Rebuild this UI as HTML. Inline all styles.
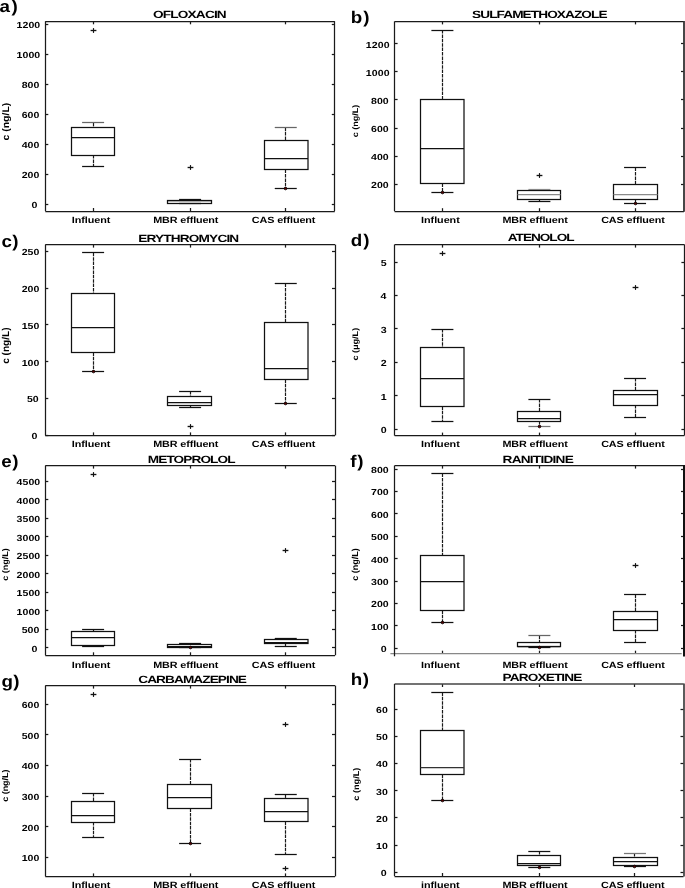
<!DOCTYPE html>
<html><head><meta charset="utf-8"><style>
html,body{margin:0;padding:0;background:#fff;}
svg{display:block;will-change:transform;}
text{font-family:"Liberation Sans", sans-serif;text-rendering:geometricPrecision;font-variant-ligatures:none;font-feature-settings:'liga' 0,'clig' 0;}
</style></head><body>
<svg width="685" height="888" viewBox="0 0 685 888">
<rect width="685" height="888" fill="#fff"/>
<line x1="45.30" y1="204.50" x2="48.30" y2="204.50" stroke="#1a1a1a" stroke-width="1.25"/>
<line x1="331.80" y1="204.50" x2="334.80" y2="204.50" stroke="#1a1a1a" stroke-width="1.25"/>
<text transform="translate(31.51,208.40) scale(1.2100,1)" font-size="8.80" letter-spacing="0.000" fill="#000" font-weight="bold">0</text>
<line x1="45.30" y1="174.50" x2="48.30" y2="174.50" stroke="#1a1a1a" stroke-width="1.25"/>
<line x1="331.80" y1="174.50" x2="334.80" y2="174.50" stroke="#1a1a1a" stroke-width="1.25"/>
<text transform="translate(21.67,178.40) scale(1.2000,1)" font-size="8.80" letter-spacing="0.058" fill="#000" font-weight="bold">200</text>
<line x1="45.30" y1="144.50" x2="48.30" y2="144.50" stroke="#1a1a1a" stroke-width="1.25"/>
<line x1="331.80" y1="144.50" x2="334.80" y2="144.50" stroke="#1a1a1a" stroke-width="1.25"/>
<text transform="translate(21.67,148.40) scale(1.2000,1)" font-size="8.80" letter-spacing="0.059" fill="#000" font-weight="bold">400</text>
<line x1="45.30" y1="114.50" x2="48.30" y2="114.50" stroke="#1a1a1a" stroke-width="1.25"/>
<line x1="331.80" y1="114.50" x2="334.80" y2="114.50" stroke="#1a1a1a" stroke-width="1.25"/>
<text transform="translate(21.67,118.40) scale(1.2000,1)" font-size="8.80" letter-spacing="0.058" fill="#000" font-weight="bold">600</text>
<line x1="45.30" y1="84.50" x2="48.30" y2="84.50" stroke="#1a1a1a" stroke-width="1.25"/>
<line x1="331.80" y1="84.50" x2="334.80" y2="84.50" stroke="#1a1a1a" stroke-width="1.25"/>
<text transform="translate(21.67,88.40) scale(1.2000,1)" font-size="8.80" letter-spacing="0.059" fill="#000" font-weight="bold">800</text>
<line x1="45.30" y1="54.50" x2="48.30" y2="54.50" stroke="#1a1a1a" stroke-width="1.25"/>
<line x1="331.80" y1="54.50" x2="334.80" y2="54.50" stroke="#1a1a1a" stroke-width="1.25"/>
<text transform="translate(16.55,58.40) scale(1.2000,1)" font-size="8.80" letter-spacing="0.052" fill="#000" font-weight="bold">1000</text>
<line x1="45.30" y1="24.50" x2="48.30" y2="24.50" stroke="#1a1a1a" stroke-width="1.25"/>
<line x1="331.80" y1="24.50" x2="334.80" y2="24.50" stroke="#1a1a1a" stroke-width="1.25"/>
<text transform="translate(16.55,28.40) scale(1.2000,1)" font-size="8.80" letter-spacing="0.052" fill="#000" font-weight="bold">1200</text>
<line x1="93.50" y1="211.00" x2="93.50" y2="208.00" stroke="#1a1a1a" stroke-width="1.25"/>
<line x1="93.50" y1="21.30" x2="93.50" y2="24.30" stroke="#1a1a1a" stroke-width="1.25"/>
<line x1="190.50" y1="211.00" x2="190.50" y2="208.00" stroke="#1a1a1a" stroke-width="1.25"/>
<line x1="190.50" y1="21.30" x2="190.50" y2="24.30" stroke="#1a1a1a" stroke-width="1.25"/>
<line x1="285.50" y1="211.00" x2="285.50" y2="208.00" stroke="#1a1a1a" stroke-width="1.25"/>
<line x1="285.50" y1="21.30" x2="285.50" y2="24.30" stroke="#1a1a1a" stroke-width="1.25"/>
<line x1="93.50" y1="122.90" x2="93.50" y2="127.00" stroke="#1a1a1a" stroke-width="1.2" stroke-dasharray="3.5,0.9"/>
<line x1="93.50" y1="155.00" x2="93.50" y2="166.00" stroke="#1a1a1a" stroke-width="1.2" stroke-dasharray="3.5,0.9"/>
<line x1="82.10" y1="122.50" x2="104.10" y2="122.50" stroke="#666" stroke-width="1.25"/>
<line x1="82.10" y1="166.50" x2="104.10" y2="166.50" stroke="#111" stroke-width="1.25"/>
<rect x="71.50" y="127.50" width="43.00" height="28.00" fill="none" stroke="#111" stroke-width="1.25"/>
<line x1="71.50" y1="137.50" x2="114.50" y2="137.50" stroke="#111" stroke-width="1.25"/>
<line x1="90.60" y1="30.50" x2="96.40" y2="30.50" stroke="#111" stroke-width="1.35"/>
<line x1="93.50" y1="28.10" x2="93.50" y2="32.90" stroke="#111" stroke-width="1.15"/>
<line x1="190.50" y1="199.30" x2="190.50" y2="200.20" stroke="#1a1a1a" stroke-width="1.2" stroke-dasharray="3.5,0.9"/>
<line x1="179.10" y1="199.50" x2="201.10" y2="199.50" stroke="#111" stroke-width="1.25"/>
<line x1="179.10" y1="203.50" x2="201.10" y2="203.50" stroke="#111" stroke-width="1.25"/>
<rect x="167.50" y="200.50" width="44.00" height="3.00" fill="none" stroke="#111" stroke-width="1.25"/>
<line x1="167.50" y1="200.50" x2="211.50" y2="200.50" stroke="#111" stroke-width="1.25"/>
<line x1="187.60" y1="167.50" x2="193.40" y2="167.50" stroke="#111" stroke-width="1.35"/>
<line x1="190.50" y1="165.10" x2="190.50" y2="169.90" stroke="#111" stroke-width="1.15"/>
<line x1="285.50" y1="127.70" x2="285.50" y2="140.40" stroke="#1a1a1a" stroke-width="1.2" stroke-dasharray="3.5,0.9"/>
<line x1="285.50" y1="169.60" x2="285.50" y2="188.00" stroke="#1a1a1a" stroke-width="1.2" stroke-dasharray="3.5,0.9"/>
<line x1="274.75" y1="127.50" x2="296.75" y2="127.50" stroke="#666" stroke-width="1.25"/>
<line x1="274.75" y1="188.50" x2="296.75" y2="188.50" stroke="#111" stroke-width="1.25"/>
<rect x="264.50" y="140.50" width="43.50" height="29.00" fill="none" stroke="#111" stroke-width="1.25"/>
<line x1="264.50" y1="158.50" x2="308.00" y2="158.50" stroke="#111" stroke-width="1.25"/>
<circle cx="285.50" cy="188.50" r="1.35" fill="#5a0000" stroke="#000" stroke-width="0.8"/>
<line x1="45.30" y1="211.50" x2="334.80" y2="211.50" stroke="#1a1a1a" stroke-width="1.25"/>
<line x1="45.30" y1="21.50" x2="334.80" y2="21.50" stroke="#1a1a1a" stroke-width="1.25"/>
<line x1="45.50" y1="21.30" x2="45.50" y2="211.00" stroke="#1a1a1a" stroke-width="1.25"/>
<line x1="334.50" y1="21.30" x2="334.50" y2="211.00" stroke="#1a1a1a" stroke-width="1.25"/>
<text transform="translate(71.78,222.80) scale(1.2000,1)" font-size="9.00" letter-spacing="-0.040" fill="#000" font-weight="bold">Influent</text>
<text transform="translate(153.18,222.80) scale(1.2000,1)" font-size="9.00" letter-spacing="-0.101" fill="#000" font-weight="bold">MBR effluent</text>
<text transform="translate(251.86,222.80) scale(1.2000,1)" font-size="9.00" letter-spacing="-0.093" fill="#000" font-weight="bold">CAS effluent</text>
<text transform="translate(153.04,18.30) scale(1.3000,1)" font-size="10.50" letter-spacing="-0.644" fill="#000" font-weight="bold">OFLOXACIN</text>
<text transform="translate(-0.55,12.00) scale(1.1200,1)" font-size="16.80" letter-spacing="1.480" fill="#000" font-weight="bold">a)</text>
<text transform="rotate(-90)" x="-140.41" y="9.46" font-size="9.61" textLength="37.63" lengthAdjust="spacingAndGlyphs" fill="#000" font-weight="bold">c (ng/L)</text>
<line x1="394.60" y1="184.50" x2="397.60" y2="184.50" stroke="#1a1a1a" stroke-width="1.25"/>
<line x1="681.00" y1="184.50" x2="684.00" y2="184.50" stroke="#1a1a1a" stroke-width="1.25"/>
<text transform="translate(370.97,188.40) scale(1.2000,1)" font-size="8.80" letter-spacing="0.058" fill="#000" font-weight="bold">200</text>
<line x1="394.60" y1="156.50" x2="397.60" y2="156.50" stroke="#1a1a1a" stroke-width="1.25"/>
<line x1="681.00" y1="156.50" x2="684.00" y2="156.50" stroke="#1a1a1a" stroke-width="1.25"/>
<text transform="translate(370.97,160.24) scale(1.2000,1)" font-size="8.80" letter-spacing="0.059" fill="#000" font-weight="bold">400</text>
<line x1="394.60" y1="128.50" x2="397.60" y2="128.50" stroke="#1a1a1a" stroke-width="1.25"/>
<line x1="681.00" y1="128.50" x2="684.00" y2="128.50" stroke="#1a1a1a" stroke-width="1.25"/>
<text transform="translate(370.97,132.08) scale(1.2000,1)" font-size="8.80" letter-spacing="0.058" fill="#000" font-weight="bold">600</text>
<line x1="394.60" y1="99.50" x2="397.60" y2="99.50" stroke="#1a1a1a" stroke-width="1.25"/>
<line x1="681.00" y1="99.50" x2="684.00" y2="99.50" stroke="#1a1a1a" stroke-width="1.25"/>
<text transform="translate(370.97,103.92) scale(1.2000,1)" font-size="8.80" letter-spacing="0.059" fill="#000" font-weight="bold">800</text>
<line x1="394.60" y1="71.50" x2="397.60" y2="71.50" stroke="#1a1a1a" stroke-width="1.25"/>
<line x1="681.00" y1="71.50" x2="684.00" y2="71.50" stroke="#1a1a1a" stroke-width="1.25"/>
<text transform="translate(365.85,75.76) scale(1.2000,1)" font-size="8.80" letter-spacing="0.052" fill="#000" font-weight="bold">1000</text>
<line x1="394.60" y1="43.50" x2="397.60" y2="43.50" stroke="#1a1a1a" stroke-width="1.25"/>
<line x1="681.00" y1="43.50" x2="684.00" y2="43.50" stroke="#1a1a1a" stroke-width="1.25"/>
<text transform="translate(365.85,47.60) scale(1.2000,1)" font-size="8.80" letter-spacing="0.052" fill="#000" font-weight="bold">1200</text>
<line x1="442.50" y1="211.20" x2="442.50" y2="208.20" stroke="#1a1a1a" stroke-width="1.25"/>
<line x1="442.50" y1="21.40" x2="442.50" y2="24.40" stroke="#1a1a1a" stroke-width="1.25"/>
<line x1="539.50" y1="211.20" x2="539.50" y2="208.20" stroke="#1a1a1a" stroke-width="1.25"/>
<line x1="539.50" y1="21.40" x2="539.50" y2="24.40" stroke="#1a1a1a" stroke-width="1.25"/>
<line x1="635.50" y1="211.20" x2="635.50" y2="208.20" stroke="#1a1a1a" stroke-width="1.25"/>
<line x1="635.50" y1="21.40" x2="635.50" y2="24.40" stroke="#1a1a1a" stroke-width="1.25"/>
<line x1="442.50" y1="30.00" x2="442.50" y2="99.00" stroke="#1a1a1a" stroke-width="1.2" stroke-dasharray="3.5,0.9"/>
<line x1="442.50" y1="183.60" x2="442.50" y2="192.30" stroke="#1a1a1a" stroke-width="1.2" stroke-dasharray="3.5,0.9"/>
<line x1="431.40" y1="30.50" x2="453.40" y2="30.50" stroke="#111" stroke-width="1.25"/>
<line x1="431.40" y1="192.50" x2="453.40" y2="192.50" stroke="#111" stroke-width="1.25"/>
<rect x="420.50" y="99.50" width="43.50" height="84.00" fill="none" stroke="#111" stroke-width="1.25"/>
<line x1="420.50" y1="148.50" x2="464.00" y2="148.50" stroke="#111" stroke-width="1.25"/>
<circle cx="442.50" cy="192.50" r="1.35" fill="#5a0000" stroke="#000" stroke-width="0.8"/>
<line x1="539.50" y1="199.30" x2="539.50" y2="201.30" stroke="#1a1a1a" stroke-width="1.2" stroke-dasharray="3.5,0.9"/>
<line x1="528.40" y1="189.50" x2="550.40" y2="189.50" stroke="#999" stroke-width="1.25"/>
<line x1="528.40" y1="201.50" x2="550.40" y2="201.50" stroke="#111" stroke-width="1.25"/>
<rect x="517.50" y="190.50" width="43.00" height="9.00" fill="none" stroke="#111" stroke-width="1.25"/>
<line x1="517.50" y1="194.50" x2="560.50" y2="194.50" stroke="#8a8a8a" stroke-width="1.25"/>
<line x1="536.60" y1="175.50" x2="542.40" y2="175.50" stroke="#111" stroke-width="1.35"/>
<line x1="539.50" y1="173.10" x2="539.50" y2="177.90" stroke="#111" stroke-width="1.15"/>
<line x1="635.50" y1="167.60" x2="635.50" y2="184.40" stroke="#1a1a1a" stroke-width="1.2" stroke-dasharray="3.5,0.9"/>
<line x1="635.50" y1="199.30" x2="635.50" y2="203.30" stroke="#1a1a1a" stroke-width="1.2" stroke-dasharray="3.5,0.9"/>
<line x1="624.05" y1="167.50" x2="646.05" y2="167.50" stroke="#111" stroke-width="1.25"/>
<line x1="624.05" y1="203.50" x2="646.05" y2="203.50" stroke="#111" stroke-width="1.25"/>
<rect x="613.50" y="184.50" width="44.00" height="15.00" fill="none" stroke="#111" stroke-width="1.25"/>
<line x1="613.50" y1="194.50" x2="657.50" y2="194.50" stroke="#8a8a8a" stroke-width="1.25"/>
<circle cx="635.50" cy="203.50" r="1.35" fill="#5a0000" stroke="#000" stroke-width="0.8"/>
<line x1="394.60" y1="211.50" x2="684.00" y2="211.50" stroke="#1a1a1a" stroke-width="1.25"/>
<line x1="394.60" y1="21.50" x2="684.00" y2="21.50" stroke="#1a1a1a" stroke-width="1.25"/>
<line x1="394.50" y1="21.40" x2="394.50" y2="211.20" stroke="#1a1a1a" stroke-width="1.25"/>
<line x1="684.00" y1="20.90" x2="684.00" y2="211.70" stroke="#333" stroke-width="1.8"/>
<text transform="translate(421.08,222.80) scale(1.2000,1)" font-size="9.00" letter-spacing="-0.040" fill="#000" font-weight="bold">Influent</text>
<text transform="translate(502.48,222.80) scale(1.2000,1)" font-size="9.00" letter-spacing="-0.101" fill="#000" font-weight="bold">MBR effluent</text>
<text transform="translate(601.16,222.80) scale(1.2000,1)" font-size="9.00" letter-spacing="-0.093" fill="#000" font-weight="bold">CAS effluent</text>
<text transform="translate(472.01,17.90) scale(1.3000,1)" font-size="10.50" letter-spacing="-0.709" fill="#000" font-weight="bold">SULFAMETHOXAZOLE</text>
<text transform="translate(350.76,22.60) scale(1.1200,1)" font-size="16.80" letter-spacing="0.998" fill="#000" font-weight="bold">b)</text>
<text transform="rotate(-90)" x="-137.25" y="358.20" font-size="8.01" textLength="32.50" lengthAdjust="spacingAndGlyphs" fill="#000" font-weight="bold">c (ng/L)</text>
<line x1="45.30" y1="435.50" x2="48.30" y2="435.50" stroke="#1a1a1a" stroke-width="1.25"/>
<line x1="332.00" y1="435.50" x2="335.00" y2="435.50" stroke="#1a1a1a" stroke-width="1.25"/>
<text transform="translate(31.51,439.20) scale(1.2100,1)" font-size="8.80" letter-spacing="0.000" fill="#000" font-weight="bold">0</text>
<line x1="45.30" y1="398.50" x2="48.30" y2="398.50" stroke="#1a1a1a" stroke-width="1.25"/>
<line x1="332.00" y1="398.50" x2="335.00" y2="398.50" stroke="#1a1a1a" stroke-width="1.25"/>
<text transform="translate(26.90,402.44) scale(1.2000,1)" font-size="8.80" letter-spacing="0.076" fill="#000" font-weight="bold">50</text>
<line x1="45.30" y1="361.50" x2="48.30" y2="361.50" stroke="#1a1a1a" stroke-width="1.25"/>
<line x1="332.00" y1="361.50" x2="335.00" y2="361.50" stroke="#1a1a1a" stroke-width="1.25"/>
<text transform="translate(21.68,365.68) scale(1.2000,1)" font-size="8.80" letter-spacing="0.057" fill="#000" font-weight="bold">100</text>
<line x1="45.30" y1="324.50" x2="48.30" y2="324.50" stroke="#1a1a1a" stroke-width="1.25"/>
<line x1="332.00" y1="324.50" x2="335.00" y2="324.50" stroke="#1a1a1a" stroke-width="1.25"/>
<text transform="translate(21.68,328.92) scale(1.2000,1)" font-size="8.80" letter-spacing="0.057" fill="#000" font-weight="bold">150</text>
<line x1="45.30" y1="288.50" x2="48.30" y2="288.50" stroke="#1a1a1a" stroke-width="1.25"/>
<line x1="332.00" y1="288.50" x2="335.00" y2="288.50" stroke="#1a1a1a" stroke-width="1.25"/>
<text transform="translate(21.67,292.16) scale(1.2000,1)" font-size="8.80" letter-spacing="0.058" fill="#000" font-weight="bold">200</text>
<line x1="45.30" y1="251.50" x2="48.30" y2="251.50" stroke="#1a1a1a" stroke-width="1.25"/>
<line x1="332.00" y1="251.50" x2="335.00" y2="251.50" stroke="#1a1a1a" stroke-width="1.25"/>
<text transform="translate(21.67,255.40) scale(1.2000,1)" font-size="8.80" letter-spacing="0.058" fill="#000" font-weight="bold">250</text>
<line x1="93.50" y1="435.40" x2="93.50" y2="432.40" stroke="#1a1a1a" stroke-width="1.25"/>
<line x1="93.50" y1="244.60" x2="93.50" y2="247.60" stroke="#1a1a1a" stroke-width="1.25"/>
<line x1="190.50" y1="435.40" x2="190.50" y2="432.40" stroke="#1a1a1a" stroke-width="1.25"/>
<line x1="190.50" y1="244.60" x2="190.50" y2="247.60" stroke="#1a1a1a" stroke-width="1.25"/>
<line x1="285.50" y1="435.40" x2="285.50" y2="432.40" stroke="#1a1a1a" stroke-width="1.25"/>
<line x1="285.50" y1="244.60" x2="285.50" y2="247.60" stroke="#1a1a1a" stroke-width="1.25"/>
<line x1="93.50" y1="252.80" x2="93.50" y2="293.00" stroke="#1a1a1a" stroke-width="1.2" stroke-dasharray="3.5,0.9"/>
<line x1="93.50" y1="352.40" x2="93.50" y2="371.40" stroke="#1a1a1a" stroke-width="1.2" stroke-dasharray="3.5,0.9"/>
<line x1="82.10" y1="252.50" x2="104.10" y2="252.50" stroke="#111" stroke-width="1.25"/>
<line x1="82.10" y1="371.50" x2="104.10" y2="371.50" stroke="#111" stroke-width="1.25"/>
<rect x="71.50" y="293.50" width="43.00" height="59.00" fill="none" stroke="#111" stroke-width="1.25"/>
<line x1="71.50" y1="327.50" x2="114.50" y2="327.50" stroke="#111" stroke-width="1.25"/>
<circle cx="93.50" cy="371.50" r="1.35" fill="#5a0000" stroke="#000" stroke-width="0.8"/>
<line x1="190.50" y1="391.00" x2="190.50" y2="396.60" stroke="#1a1a1a" stroke-width="1.2" stroke-dasharray="3.5,0.9"/>
<line x1="190.50" y1="405.00" x2="190.50" y2="407.20" stroke="#1a1a1a" stroke-width="1.2" stroke-dasharray="3.5,0.9"/>
<line x1="179.10" y1="391.50" x2="201.10" y2="391.50" stroke="#111" stroke-width="1.25"/>
<line x1="179.10" y1="407.50" x2="201.10" y2="407.50" stroke="#111" stroke-width="1.25"/>
<rect x="167.50" y="396.50" width="44.00" height="9.00" fill="none" stroke="#111" stroke-width="1.25"/>
<line x1="167.50" y1="402.50" x2="211.50" y2="402.50" stroke="#111" stroke-width="1.25"/>
<line x1="187.60" y1="426.50" x2="193.40" y2="426.50" stroke="#111" stroke-width="1.35"/>
<line x1="190.50" y1="424.10" x2="190.50" y2="428.90" stroke="#111" stroke-width="1.15"/>
<line x1="285.50" y1="283.60" x2="285.50" y2="322.60" stroke="#1a1a1a" stroke-width="1.2" stroke-dasharray="3.5,0.9"/>
<line x1="285.50" y1="379.40" x2="285.50" y2="403.00" stroke="#1a1a1a" stroke-width="1.2" stroke-dasharray="3.5,0.9"/>
<line x1="274.75" y1="283.50" x2="296.75" y2="283.50" stroke="#111" stroke-width="1.25"/>
<line x1="274.75" y1="403.50" x2="296.75" y2="403.50" stroke="#111" stroke-width="1.25"/>
<rect x="264.50" y="322.50" width="43.50" height="57.00" fill="none" stroke="#111" stroke-width="1.25"/>
<line x1="264.50" y1="368.50" x2="308.00" y2="368.50" stroke="#111" stroke-width="1.25"/>
<circle cx="285.50" cy="403.50" r="1.35" fill="#5a0000" stroke="#000" stroke-width="0.8"/>
<line x1="45.30" y1="435.50" x2="335.00" y2="435.50" stroke="#1a1a1a" stroke-width="1.25"/>
<line x1="45.30" y1="244.50" x2="335.00" y2="244.50" stroke="#1a1a1a" stroke-width="1.25"/>
<line x1="45.50" y1="244.60" x2="45.50" y2="435.40" stroke="#1a1a1a" stroke-width="1.25"/>
<line x1="335.50" y1="244.60" x2="335.50" y2="435.40" stroke="#1a1a1a" stroke-width="1.25"/>
<text transform="translate(71.78,446.60) scale(1.2000,1)" font-size="9.00" letter-spacing="-0.040" fill="#000" font-weight="bold">Influent</text>
<text transform="translate(153.18,446.60) scale(1.2000,1)" font-size="9.00" letter-spacing="-0.101" fill="#000" font-weight="bold">MBR effluent</text>
<text transform="translate(251.86,446.60) scale(1.2000,1)" font-size="9.00" letter-spacing="-0.093" fill="#000" font-weight="bold">CAS effluent</text>
<text transform="translate(138.19,242.00) scale(1.3000,1)" font-size="10.50" letter-spacing="-0.642" fill="#000" font-weight="bold">ERYTHROMYCIN</text>
<text transform="translate(1.56,246.60) scale(1.1200,1)" font-size="16.80" letter-spacing="0.127" fill="#000" font-weight="bold">c)</text>
<text transform="rotate(-90)" x="-363.89" y="9.30" font-size="9.93" textLength="36.50" lengthAdjust="spacingAndGlyphs" fill="#000" font-weight="bold">c (ng/L)</text>
<line x1="394.60" y1="429.50" x2="397.60" y2="429.50" stroke="#1a1a1a" stroke-width="1.25"/>
<line x1="681.40" y1="429.50" x2="684.40" y2="429.50" stroke="#1a1a1a" stroke-width="1.25"/>
<text transform="translate(380.81,433.40) scale(1.2100,1)" font-size="8.80" letter-spacing="0.000" fill="#000" font-weight="bold">0</text>
<line x1="394.60" y1="395.50" x2="397.60" y2="395.50" stroke="#1a1a1a" stroke-width="1.25"/>
<line x1="681.40" y1="395.50" x2="684.40" y2="395.50" stroke="#1a1a1a" stroke-width="1.25"/>
<text transform="translate(380.67,399.92) scale(1.2100,1)" font-size="8.80" letter-spacing="0.000" fill="#000" font-weight="bold">1</text>
<line x1="394.60" y1="362.50" x2="397.60" y2="362.50" stroke="#1a1a1a" stroke-width="1.25"/>
<line x1="681.40" y1="362.50" x2="684.40" y2="362.50" stroke="#1a1a1a" stroke-width="1.25"/>
<text transform="translate(380.80,366.44) scale(1.2100,1)" font-size="8.80" letter-spacing="0.000" fill="#000" font-weight="bold">2</text>
<line x1="394.60" y1="328.50" x2="397.60" y2="328.50" stroke="#1a1a1a" stroke-width="1.25"/>
<line x1="681.40" y1="328.50" x2="684.40" y2="328.50" stroke="#1a1a1a" stroke-width="1.25"/>
<text transform="translate(380.76,332.96) scale(1.2100,1)" font-size="8.80" letter-spacing="0.000" fill="#000" font-weight="bold">3</text>
<line x1="394.60" y1="295.50" x2="397.60" y2="295.50" stroke="#1a1a1a" stroke-width="1.25"/>
<line x1="681.40" y1="295.50" x2="684.40" y2="295.50" stroke="#1a1a1a" stroke-width="1.25"/>
<text transform="translate(380.44,299.48) scale(1.2100,1)" font-size="8.80" letter-spacing="0.000" fill="#000" font-weight="bold">4</text>
<line x1="394.60" y1="262.50" x2="397.60" y2="262.50" stroke="#1a1a1a" stroke-width="1.25"/>
<line x1="681.40" y1="262.50" x2="684.40" y2="262.50" stroke="#1a1a1a" stroke-width="1.25"/>
<text transform="translate(380.67,266.00) scale(1.2100,1)" font-size="8.80" letter-spacing="0.000" fill="#000" font-weight="bold">5</text>
<line x1="442.50" y1="435.60" x2="442.50" y2="432.60" stroke="#1a1a1a" stroke-width="1.25"/>
<line x1="442.50" y1="244.60" x2="442.50" y2="247.60" stroke="#1a1a1a" stroke-width="1.25"/>
<line x1="539.50" y1="435.60" x2="539.50" y2="432.60" stroke="#1a1a1a" stroke-width="1.25"/>
<line x1="539.50" y1="244.60" x2="539.50" y2="247.60" stroke="#1a1a1a" stroke-width="1.25"/>
<line x1="635.50" y1="435.60" x2="635.50" y2="432.60" stroke="#1a1a1a" stroke-width="1.25"/>
<line x1="635.50" y1="244.60" x2="635.50" y2="247.60" stroke="#1a1a1a" stroke-width="1.25"/>
<line x1="442.50" y1="329.00" x2="442.50" y2="347.60" stroke="#1a1a1a" stroke-width="1.2" stroke-dasharray="3.5,0.9"/>
<line x1="442.50" y1="406.40" x2="442.50" y2="421.40" stroke="#1a1a1a" stroke-width="1.2" stroke-dasharray="3.5,0.9"/>
<line x1="431.40" y1="329.50" x2="453.40" y2="329.50" stroke="#111" stroke-width="1.25"/>
<line x1="431.40" y1="421.50" x2="453.40" y2="421.50" stroke="#111" stroke-width="1.25"/>
<rect x="420.50" y="347.50" width="43.50" height="59.00" fill="none" stroke="#111" stroke-width="1.25"/>
<line x1="420.50" y1="378.50" x2="464.00" y2="378.50" stroke="#111" stroke-width="1.25"/>
<line x1="439.60" y1="253.50" x2="445.40" y2="253.50" stroke="#111" stroke-width="1.35"/>
<line x1="442.50" y1="251.10" x2="442.50" y2="255.90" stroke="#111" stroke-width="1.15"/>
<line x1="539.50" y1="399.00" x2="539.50" y2="411.50" stroke="#1a1a1a" stroke-width="1.2" stroke-dasharray="3.5,0.9"/>
<line x1="539.50" y1="421.10" x2="539.50" y2="426.50" stroke="#1a1a1a" stroke-width="1.2" stroke-dasharray="3.5,0.9"/>
<line x1="528.40" y1="399.50" x2="550.40" y2="399.50" stroke="#111" stroke-width="1.25"/>
<line x1="528.40" y1="426.50" x2="550.40" y2="426.50" stroke="#777" stroke-width="1.25"/>
<rect x="517.50" y="411.50" width="43.00" height="10.00" fill="none" stroke="#111" stroke-width="1.25"/>
<line x1="517.50" y1="418.50" x2="560.50" y2="418.50" stroke="#111" stroke-width="1.25"/>
<circle cx="539.50" cy="426.50" r="1.35" fill="#5a0000" stroke="#000" stroke-width="0.8"/>
<line x1="635.50" y1="378.00" x2="635.50" y2="390.00" stroke="#1a1a1a" stroke-width="1.2" stroke-dasharray="3.5,0.9"/>
<line x1="635.50" y1="405.00" x2="635.50" y2="417.20" stroke="#1a1a1a" stroke-width="1.2" stroke-dasharray="3.5,0.9"/>
<line x1="624.05" y1="378.50" x2="646.05" y2="378.50" stroke="#111" stroke-width="1.25"/>
<line x1="624.05" y1="417.50" x2="646.05" y2="417.50" stroke="#111" stroke-width="1.25"/>
<rect x="613.50" y="390.50" width="44.00" height="15.00" fill="none" stroke="#111" stroke-width="1.25"/>
<line x1="613.50" y1="394.50" x2="657.50" y2="394.50" stroke="#111" stroke-width="1.25"/>
<line x1="632.60" y1="287.50" x2="638.40" y2="287.50" stroke="#111" stroke-width="1.35"/>
<line x1="635.50" y1="285.10" x2="635.50" y2="289.90" stroke="#111" stroke-width="1.15"/>
<line x1="394.60" y1="435.50" x2="684.40" y2="435.50" stroke="#1a1a1a" stroke-width="1.25"/>
<line x1="394.60" y1="244.50" x2="684.40" y2="244.50" stroke="#1a1a1a" stroke-width="1.25"/>
<line x1="394.50" y1="244.60" x2="394.50" y2="435.60" stroke="#1a1a1a" stroke-width="1.25"/>
<line x1="684.50" y1="244.60" x2="684.50" y2="435.60" stroke="#1a1a1a" stroke-width="1.25"/>
<text transform="translate(421.08,446.60) scale(1.2000,1)" font-size="9.00" letter-spacing="-0.040" fill="#000" font-weight="bold">Influent</text>
<text transform="translate(502.48,446.60) scale(1.2000,1)" font-size="9.00" letter-spacing="-0.101" fill="#000" font-weight="bold">MBR effluent</text>
<text transform="translate(601.16,446.60) scale(1.2000,1)" font-size="9.00" letter-spacing="-0.093" fill="#000" font-weight="bold">CAS effluent</text>
<text transform="translate(507.76,240.90) scale(1.3000,1)" font-size="10.50" letter-spacing="-0.792" fill="#000" font-weight="bold">ATENOLOL</text>
<text transform="translate(350.63,246.40) scale(1.1200,1)" font-size="16.80" letter-spacing="1.116" fill="#000" font-weight="bold">d)</text>
<text transform="rotate(-90)" x="-360.56" y="358.40" font-size="8.01" textLength="32.82" lengthAdjust="spacingAndGlyphs" fill="#000" font-weight="bold">c (µg/L)</text>
<line x1="45.30" y1="647.50" x2="48.30" y2="647.50" stroke="#1a1a1a" stroke-width="1.25"/>
<line x1="332.00" y1="647.50" x2="335.00" y2="647.50" stroke="#1a1a1a" stroke-width="1.25"/>
<text transform="translate(31.51,651.60) scale(1.2100,1)" font-size="8.80" letter-spacing="0.000" fill="#000" font-weight="bold">0</text>
<line x1="45.30" y1="629.50" x2="48.30" y2="629.50" stroke="#1a1a1a" stroke-width="1.25"/>
<line x1="332.00" y1="629.50" x2="335.00" y2="629.50" stroke="#1a1a1a" stroke-width="1.25"/>
<text transform="translate(21.67,633.14) scale(1.2000,1)" font-size="8.80" letter-spacing="0.059" fill="#000" font-weight="bold">500</text>
<line x1="45.30" y1="610.50" x2="48.30" y2="610.50" stroke="#1a1a1a" stroke-width="1.25"/>
<line x1="332.00" y1="610.50" x2="335.00" y2="610.50" stroke="#1a1a1a" stroke-width="1.25"/>
<text transform="translate(16.55,614.68) scale(1.2000,1)" font-size="8.80" letter-spacing="0.052" fill="#000" font-weight="bold">1000</text>
<line x1="45.30" y1="592.50" x2="48.30" y2="592.50" stroke="#1a1a1a" stroke-width="1.25"/>
<line x1="332.00" y1="592.50" x2="335.00" y2="592.50" stroke="#1a1a1a" stroke-width="1.25"/>
<text transform="translate(16.55,596.22) scale(1.2000,1)" font-size="8.80" letter-spacing="0.052" fill="#000" font-weight="bold">1500</text>
<line x1="45.30" y1="573.50" x2="48.30" y2="573.50" stroke="#1a1a1a" stroke-width="1.25"/>
<line x1="332.00" y1="573.50" x2="335.00" y2="573.50" stroke="#1a1a1a" stroke-width="1.25"/>
<text transform="translate(16.55,577.76) scale(1.2000,1)" font-size="8.80" letter-spacing="0.053" fill="#000" font-weight="bold">2000</text>
<line x1="45.30" y1="555.50" x2="48.30" y2="555.50" stroke="#1a1a1a" stroke-width="1.25"/>
<line x1="332.00" y1="555.50" x2="335.00" y2="555.50" stroke="#1a1a1a" stroke-width="1.25"/>
<text transform="translate(16.55,559.30) scale(1.2000,1)" font-size="8.80" letter-spacing="0.053" fill="#000" font-weight="bold">2500</text>
<line x1="45.30" y1="536.50" x2="48.30" y2="536.50" stroke="#1a1a1a" stroke-width="1.25"/>
<line x1="332.00" y1="536.50" x2="335.00" y2="536.50" stroke="#1a1a1a" stroke-width="1.25"/>
<text transform="translate(16.55,540.84) scale(1.2000,1)" font-size="8.80" letter-spacing="0.053" fill="#000" font-weight="bold">3000</text>
<line x1="45.30" y1="518.50" x2="48.30" y2="518.50" stroke="#1a1a1a" stroke-width="1.25"/>
<line x1="332.00" y1="518.50" x2="335.00" y2="518.50" stroke="#1a1a1a" stroke-width="1.25"/>
<text transform="translate(16.55,522.38) scale(1.2000,1)" font-size="8.80" letter-spacing="0.053" fill="#000" font-weight="bold">3500</text>
<line x1="45.30" y1="499.50" x2="48.30" y2="499.50" stroke="#1a1a1a" stroke-width="1.25"/>
<line x1="332.00" y1="499.50" x2="335.00" y2="499.50" stroke="#1a1a1a" stroke-width="1.25"/>
<text transform="translate(16.55,503.92) scale(1.2000,1)" font-size="8.80" letter-spacing="0.053" fill="#000" font-weight="bold">4000</text>
<line x1="45.30" y1="481.50" x2="48.30" y2="481.50" stroke="#1a1a1a" stroke-width="1.25"/>
<line x1="332.00" y1="481.50" x2="335.00" y2="481.50" stroke="#1a1a1a" stroke-width="1.25"/>
<text transform="translate(16.55,485.46) scale(1.2000,1)" font-size="8.80" letter-spacing="0.053" fill="#000" font-weight="bold">4500</text>
<line x1="93.50" y1="655.30" x2="93.50" y2="652.30" stroke="#1a1a1a" stroke-width="1.25"/>
<line x1="93.50" y1="465.60" x2="93.50" y2="468.60" stroke="#1a1a1a" stroke-width="1.25"/>
<line x1="190.50" y1="655.30" x2="190.50" y2="652.30" stroke="#1a1a1a" stroke-width="1.25"/>
<line x1="190.50" y1="465.60" x2="190.50" y2="468.60" stroke="#1a1a1a" stroke-width="1.25"/>
<line x1="285.50" y1="655.30" x2="285.50" y2="652.30" stroke="#1a1a1a" stroke-width="1.25"/>
<line x1="285.50" y1="465.60" x2="285.50" y2="468.60" stroke="#1a1a1a" stroke-width="1.25"/>
<line x1="93.50" y1="629.40" x2="93.50" y2="631.40" stroke="#1a1a1a" stroke-width="1.2" stroke-dasharray="3.5,0.9"/>
<line x1="93.50" y1="645.00" x2="93.50" y2="646.10" stroke="#1a1a1a" stroke-width="1.2" stroke-dasharray="3.5,0.9"/>
<line x1="82.10" y1="629.50" x2="104.10" y2="629.50" stroke="#111" stroke-width="1.25"/>
<line x1="82.10" y1="646.50" x2="104.10" y2="646.50" stroke="#111" stroke-width="1.25"/>
<rect x="71.50" y="631.50" width="43.00" height="14.00" fill="none" stroke="#111" stroke-width="1.25"/>
<line x1="71.50" y1="637.50" x2="114.50" y2="637.50" stroke="#111" stroke-width="1.25"/>
<line x1="90.60" y1="474.50" x2="96.40" y2="474.50" stroke="#111" stroke-width="1.35"/>
<line x1="93.50" y1="472.10" x2="93.50" y2="476.90" stroke="#111" stroke-width="1.15"/>
<line x1="179.10" y1="643.50" x2="201.10" y2="643.50" stroke="#111" stroke-width="1.25"/>
<line x1="179.10" y1="647.50" x2="201.10" y2="647.50" stroke="#111" stroke-width="1.25"/>
<rect x="167.50" y="644.50" width="44.00" height="3.00" fill="none" stroke="#111" stroke-width="1.25"/>
<line x1="167.50" y1="646.50" x2="211.50" y2="646.50" stroke="#111" stroke-width="1.25"/>
<circle cx="190.50" cy="647.50" r="1.35" fill="#5a0000" stroke="#000" stroke-width="0.8"/>
<line x1="285.50" y1="638.60" x2="285.50" y2="639.60" stroke="#1a1a1a" stroke-width="1.2" stroke-dasharray="3.5,0.9"/>
<line x1="285.50" y1="643.30" x2="285.50" y2="646.50" stroke="#1a1a1a" stroke-width="1.2" stroke-dasharray="3.5,0.9"/>
<line x1="274.75" y1="638.50" x2="296.75" y2="638.50" stroke="#111" stroke-width="1.25"/>
<line x1="274.75" y1="646.50" x2="296.75" y2="646.50" stroke="#111" stroke-width="1.25"/>
<rect x="264.50" y="639.50" width="43.50" height="4.00" fill="none" stroke="#111" stroke-width="1.25"/>
<line x1="264.50" y1="642.50" x2="308.00" y2="642.50" stroke="#111" stroke-width="1.25"/>
<line x1="282.60" y1="550.50" x2="288.40" y2="550.50" stroke="#111" stroke-width="1.35"/>
<line x1="285.50" y1="548.10" x2="285.50" y2="552.90" stroke="#111" stroke-width="1.15"/>
<line x1="45.30" y1="655.50" x2="335.00" y2="655.50" stroke="#1a1a1a" stroke-width="1.25"/>
<line x1="45.30" y1="465.50" x2="335.00" y2="465.50" stroke="#1a1a1a" stroke-width="1.25"/>
<line x1="45.50" y1="465.60" x2="45.50" y2="655.30" stroke="#1a1a1a" stroke-width="1.25"/>
<line x1="335.50" y1="465.60" x2="335.50" y2="655.30" stroke="#1a1a1a" stroke-width="1.25"/>
<text transform="translate(71.78,667.60) scale(1.2000,1)" font-size="9.00" letter-spacing="-0.040" fill="#000" font-weight="bold">Influent</text>
<text transform="translate(153.18,667.60) scale(1.2000,1)" font-size="9.00" letter-spacing="-0.101" fill="#000" font-weight="bold">MBR effluent</text>
<text transform="translate(251.86,667.60) scale(1.2000,1)" font-size="9.00" letter-spacing="-0.093" fill="#000" font-weight="bold">CAS effluent</text>
<text transform="translate(147.79,462.85) scale(1.3000,1)" font-size="10.50" letter-spacing="-0.707" fill="#000" font-weight="bold">METOPROLOL</text>
<text transform="translate(1.31,467.00) scale(1.1200,1)" font-size="16.80" letter-spacing="0.350" fill="#000" font-weight="bold">e)</text>
<text transform="rotate(-90)" x="-580.75" y="7.86" font-size="8.22" textLength="32.40" lengthAdjust="spacingAndGlyphs" fill="#000" font-weight="bold">c (ng/L)</text>
<line x1="394.60" y1="648.50" x2="397.60" y2="648.50" stroke="#1a1a1a" stroke-width="1.25"/>
<line x1="681.00" y1="648.50" x2="684.00" y2="648.50" stroke="#1a1a1a" stroke-width="1.25"/>
<text transform="translate(380.81,652.20) scale(1.2100,1)" font-size="8.80" letter-spacing="0.000" fill="#000" font-weight="bold">0</text>
<line x1="394.60" y1="625.50" x2="397.60" y2="625.50" stroke="#1a1a1a" stroke-width="1.25"/>
<line x1="681.00" y1="625.50" x2="684.00" y2="625.50" stroke="#1a1a1a" stroke-width="1.25"/>
<text transform="translate(370.98,629.80) scale(1.2000,1)" font-size="8.80" letter-spacing="0.057" fill="#000" font-weight="bold">100</text>
<line x1="394.60" y1="603.50" x2="397.60" y2="603.50" stroke="#1a1a1a" stroke-width="1.25"/>
<line x1="681.00" y1="603.50" x2="684.00" y2="603.50" stroke="#1a1a1a" stroke-width="1.25"/>
<text transform="translate(370.97,607.40) scale(1.2000,1)" font-size="8.80" letter-spacing="0.058" fill="#000" font-weight="bold">200</text>
<line x1="394.60" y1="581.50" x2="397.60" y2="581.50" stroke="#1a1a1a" stroke-width="1.25"/>
<line x1="681.00" y1="581.50" x2="684.00" y2="581.50" stroke="#1a1a1a" stroke-width="1.25"/>
<text transform="translate(370.97,585.00) scale(1.2000,1)" font-size="8.80" letter-spacing="0.059" fill="#000" font-weight="bold">300</text>
<line x1="394.60" y1="558.50" x2="397.60" y2="558.50" stroke="#1a1a1a" stroke-width="1.25"/>
<line x1="681.00" y1="558.50" x2="684.00" y2="558.50" stroke="#1a1a1a" stroke-width="1.25"/>
<text transform="translate(370.97,562.60) scale(1.2000,1)" font-size="8.80" letter-spacing="0.059" fill="#000" font-weight="bold">400</text>
<line x1="394.60" y1="536.50" x2="397.60" y2="536.50" stroke="#1a1a1a" stroke-width="1.25"/>
<line x1="681.00" y1="536.50" x2="684.00" y2="536.50" stroke="#1a1a1a" stroke-width="1.25"/>
<text transform="translate(370.97,540.20) scale(1.2000,1)" font-size="8.80" letter-spacing="0.059" fill="#000" font-weight="bold">500</text>
<line x1="394.60" y1="513.50" x2="397.60" y2="513.50" stroke="#1a1a1a" stroke-width="1.25"/>
<line x1="681.00" y1="513.50" x2="684.00" y2="513.50" stroke="#1a1a1a" stroke-width="1.25"/>
<text transform="translate(370.97,517.80) scale(1.2000,1)" font-size="8.80" letter-spacing="0.058" fill="#000" font-weight="bold">600</text>
<line x1="394.60" y1="491.50" x2="397.60" y2="491.50" stroke="#1a1a1a" stroke-width="1.25"/>
<line x1="681.00" y1="491.50" x2="684.00" y2="491.50" stroke="#1a1a1a" stroke-width="1.25"/>
<text transform="translate(370.97,495.40) scale(1.2000,1)" font-size="8.80" letter-spacing="0.058" fill="#000" font-weight="bold">700</text>
<line x1="394.60" y1="469.50" x2="397.60" y2="469.50" stroke="#1a1a1a" stroke-width="1.25"/>
<line x1="681.00" y1="469.50" x2="684.00" y2="469.50" stroke="#1a1a1a" stroke-width="1.25"/>
<text transform="translate(370.97,473.00) scale(1.2000,1)" font-size="8.80" letter-spacing="0.059" fill="#000" font-weight="bold">800</text>
<line x1="442.50" y1="653.70" x2="442.50" y2="650.70" stroke="#1a1a1a" stroke-width="1.25"/>
<line x1="442.50" y1="465.60" x2="442.50" y2="468.60" stroke="#1a1a1a" stroke-width="1.25"/>
<line x1="539.50" y1="653.70" x2="539.50" y2="650.70" stroke="#1a1a1a" stroke-width="1.25"/>
<line x1="539.50" y1="465.60" x2="539.50" y2="468.60" stroke="#1a1a1a" stroke-width="1.25"/>
<line x1="635.50" y1="653.70" x2="635.50" y2="650.70" stroke="#1a1a1a" stroke-width="1.25"/>
<line x1="635.50" y1="465.60" x2="635.50" y2="468.60" stroke="#1a1a1a" stroke-width="1.25"/>
<line x1="442.50" y1="473.60" x2="442.50" y2="555.40" stroke="#1a1a1a" stroke-width="1.2" stroke-dasharray="3.5,0.9"/>
<line x1="442.50" y1="610.40" x2="442.50" y2="622.60" stroke="#1a1a1a" stroke-width="1.2" stroke-dasharray="3.5,0.9"/>
<line x1="431.40" y1="473.50" x2="453.40" y2="473.50" stroke="#111" stroke-width="1.25"/>
<line x1="431.40" y1="622.50" x2="453.40" y2="622.50" stroke="#111" stroke-width="1.25"/>
<rect x="420.50" y="555.50" width="43.50" height="55.00" fill="none" stroke="#111" stroke-width="1.25"/>
<line x1="420.50" y1="581.50" x2="464.00" y2="581.50" stroke="#111" stroke-width="1.25"/>
<circle cx="442.50" cy="622.50" r="1.35" fill="#5a0000" stroke="#000" stroke-width="0.8"/>
<line x1="539.50" y1="635.70" x2="539.50" y2="642.20" stroke="#1a1a1a" stroke-width="1.2" stroke-dasharray="3.5,0.9"/>
<line x1="528.40" y1="635.50" x2="550.40" y2="635.50" stroke="#666" stroke-width="1.25"/>
<line x1="528.40" y1="647.50" x2="550.40" y2="647.50" stroke="#111" stroke-width="1.25"/>
<rect x="517.50" y="642.50" width="43.00" height="4.00" fill="none" stroke="#111" stroke-width="1.25"/>
<line x1="517.50" y1="646.50" x2="560.50" y2="646.50" stroke="#111" stroke-width="1.25"/>
<circle cx="539.50" cy="647.50" r="1.35" fill="#5a0000" stroke="#000" stroke-width="0.8"/>
<line x1="635.50" y1="594.40" x2="635.50" y2="611.40" stroke="#1a1a1a" stroke-width="1.2" stroke-dasharray="3.5,0.9"/>
<line x1="635.50" y1="630.00" x2="635.50" y2="642.60" stroke="#1a1a1a" stroke-width="1.2" stroke-dasharray="3.5,0.9"/>
<line x1="624.05" y1="594.50" x2="646.05" y2="594.50" stroke="#111" stroke-width="1.25"/>
<line x1="624.05" y1="642.50" x2="646.05" y2="642.50" stroke="#111" stroke-width="1.25"/>
<rect x="613.50" y="611.50" width="44.00" height="19.00" fill="none" stroke="#111" stroke-width="1.25"/>
<line x1="613.50" y1="619.50" x2="657.50" y2="619.50" stroke="#111" stroke-width="1.25"/>
<line x1="632.60" y1="565.50" x2="638.40" y2="565.50" stroke="#111" stroke-width="1.35"/>
<line x1="635.50" y1="563.10" x2="635.50" y2="567.90" stroke="#111" stroke-width="1.15"/>
<line x1="390.40" y1="653.50" x2="681.70" y2="653.50" stroke="#888" stroke-width="1.25"/>
<line x1="394.60" y1="465.50" x2="684.00" y2="465.50" stroke="#1a1a1a" stroke-width="1.25"/>
<line x1="394.50" y1="465.60" x2="394.50" y2="656.30" stroke="#1a1a1a" stroke-width="1.25"/>
<line x1="684.00" y1="465.10" x2="684.00" y2="656.50" stroke="#111" stroke-width="2.0"/>
<text transform="translate(421.08,667.60) scale(1.2000,1)" font-size="9.00" letter-spacing="-0.040" fill="#000" font-weight="bold">Influent</text>
<text transform="translate(502.48,667.60) scale(1.2000,1)" font-size="9.00" letter-spacing="-0.101" fill="#000" font-weight="bold">MBR effluent</text>
<text transform="translate(601.16,667.60) scale(1.2000,1)" font-size="9.00" letter-spacing="-0.093" fill="#000" font-weight="bold">CAS effluent</text>
<text transform="translate(502.59,462.85) scale(1.3000,1)" font-size="10.50" letter-spacing="-0.595" fill="#000" font-weight="bold">RANITIDINE</text>
<text transform="translate(350.28,466.50) scale(1.1200,1)" font-size="16.80" letter-spacing="0.560" fill="#000" font-weight="bold">f)</text>
<text transform="rotate(-90)" x="-580.75" y="358.24" font-size="8.76" textLength="32.40" lengthAdjust="spacingAndGlyphs" fill="#000" font-weight="bold">c (ng/L)</text>
<line x1="45.30" y1="857.50" x2="48.30" y2="857.50" stroke="#1a1a1a" stroke-width="1.25"/>
<line x1="332.00" y1="857.50" x2="335.00" y2="857.50" stroke="#1a1a1a" stroke-width="1.25"/>
<text transform="translate(21.68,861.40) scale(1.2000,1)" font-size="8.80" letter-spacing="0.057" fill="#000" font-weight="bold">100</text>
<line x1="45.30" y1="826.50" x2="48.30" y2="826.50" stroke="#1a1a1a" stroke-width="1.25"/>
<line x1="332.00" y1="826.50" x2="335.00" y2="826.50" stroke="#1a1a1a" stroke-width="1.25"/>
<text transform="translate(21.67,830.72) scale(1.2000,1)" font-size="8.80" letter-spacing="0.058" fill="#000" font-weight="bold">200</text>
<line x1="45.30" y1="796.50" x2="48.30" y2="796.50" stroke="#1a1a1a" stroke-width="1.25"/>
<line x1="332.00" y1="796.50" x2="335.00" y2="796.50" stroke="#1a1a1a" stroke-width="1.25"/>
<text transform="translate(21.67,800.04) scale(1.2000,1)" font-size="8.80" letter-spacing="0.059" fill="#000" font-weight="bold">300</text>
<line x1="45.30" y1="765.50" x2="48.30" y2="765.50" stroke="#1a1a1a" stroke-width="1.25"/>
<line x1="332.00" y1="765.50" x2="335.00" y2="765.50" stroke="#1a1a1a" stroke-width="1.25"/>
<text transform="translate(21.67,769.36) scale(1.2000,1)" font-size="8.80" letter-spacing="0.059" fill="#000" font-weight="bold">400</text>
<line x1="45.30" y1="734.50" x2="48.30" y2="734.50" stroke="#1a1a1a" stroke-width="1.25"/>
<line x1="332.00" y1="734.50" x2="335.00" y2="734.50" stroke="#1a1a1a" stroke-width="1.25"/>
<text transform="translate(21.67,738.68) scale(1.2000,1)" font-size="8.80" letter-spacing="0.059" fill="#000" font-weight="bold">500</text>
<line x1="45.30" y1="704.50" x2="48.30" y2="704.50" stroke="#1a1a1a" stroke-width="1.25"/>
<line x1="332.00" y1="704.50" x2="335.00" y2="704.50" stroke="#1a1a1a" stroke-width="1.25"/>
<text transform="translate(21.67,708.00) scale(1.2000,1)" font-size="8.80" letter-spacing="0.058" fill="#000" font-weight="bold">600</text>
<line x1="93.50" y1="876.40" x2="93.50" y2="873.40" stroke="#1a1a1a" stroke-width="1.25"/>
<line x1="93.50" y1="685.60" x2="93.50" y2="688.60" stroke="#1a1a1a" stroke-width="1.25"/>
<line x1="190.50" y1="876.40" x2="190.50" y2="873.40" stroke="#1a1a1a" stroke-width="1.25"/>
<line x1="190.50" y1="685.60" x2="190.50" y2="688.60" stroke="#1a1a1a" stroke-width="1.25"/>
<line x1="285.50" y1="876.40" x2="285.50" y2="873.40" stroke="#1a1a1a" stroke-width="1.25"/>
<line x1="285.50" y1="685.60" x2="285.50" y2="688.60" stroke="#1a1a1a" stroke-width="1.25"/>
<line x1="93.50" y1="793.00" x2="93.50" y2="801.60" stroke="#1a1a1a" stroke-width="1.2" stroke-dasharray="3.5,0.9"/>
<line x1="93.50" y1="822.00" x2="93.50" y2="837.00" stroke="#1a1a1a" stroke-width="1.2" stroke-dasharray="3.5,0.9"/>
<line x1="82.10" y1="793.50" x2="104.10" y2="793.50" stroke="#111" stroke-width="1.25"/>
<line x1="82.10" y1="837.50" x2="104.10" y2="837.50" stroke="#111" stroke-width="1.25"/>
<rect x="71.50" y="801.50" width="43.00" height="21.00" fill="none" stroke="#111" stroke-width="1.25"/>
<line x1="71.50" y1="815.50" x2="114.50" y2="815.50" stroke="#111" stroke-width="1.25"/>
<line x1="90.60" y1="694.50" x2="96.40" y2="694.50" stroke="#111" stroke-width="1.35"/>
<line x1="93.50" y1="692.10" x2="93.50" y2="696.90" stroke="#111" stroke-width="1.15"/>
<line x1="190.50" y1="759.00" x2="190.50" y2="784.00" stroke="#1a1a1a" stroke-width="1.2" stroke-dasharray="3.5,0.9"/>
<line x1="190.50" y1="808.50" x2="190.50" y2="843.00" stroke="#1a1a1a" stroke-width="1.2" stroke-dasharray="3.5,0.9"/>
<line x1="179.10" y1="759.50" x2="201.10" y2="759.50" stroke="#111" stroke-width="1.25"/>
<line x1="179.10" y1="843.50" x2="201.10" y2="843.50" stroke="#111" stroke-width="1.25"/>
<rect x="167.50" y="784.50" width="44.00" height="24.00" fill="none" stroke="#111" stroke-width="1.25"/>
<line x1="167.50" y1="797.50" x2="211.50" y2="797.50" stroke="#111" stroke-width="1.25"/>
<circle cx="190.50" cy="843.50" r="1.35" fill="#5a0000" stroke="#000" stroke-width="0.8"/>
<line x1="285.50" y1="794.40" x2="285.50" y2="798.60" stroke="#1a1a1a" stroke-width="1.2" stroke-dasharray="3.5,0.9"/>
<line x1="285.50" y1="821.40" x2="285.50" y2="854.40" stroke="#1a1a1a" stroke-width="1.2" stroke-dasharray="3.5,0.9"/>
<line x1="274.75" y1="794.50" x2="296.75" y2="794.50" stroke="#111" stroke-width="1.25"/>
<line x1="274.75" y1="854.50" x2="296.75" y2="854.50" stroke="#111" stroke-width="1.25"/>
<rect x="264.50" y="798.50" width="43.50" height="23.00" fill="none" stroke="#111" stroke-width="1.25"/>
<line x1="264.50" y1="811.50" x2="308.00" y2="811.50" stroke="#111" stroke-width="1.25"/>
<line x1="282.60" y1="724.50" x2="288.40" y2="724.50" stroke="#111" stroke-width="1.35"/>
<line x1="285.50" y1="722.10" x2="285.50" y2="726.90" stroke="#111" stroke-width="1.15"/>
<line x1="282.60" y1="868.50" x2="288.40" y2="868.50" stroke="#111" stroke-width="1.35"/>
<line x1="285.50" y1="866.10" x2="285.50" y2="870.90" stroke="#111" stroke-width="1.15"/>
<line x1="45.30" y1="876.50" x2="335.00" y2="876.50" stroke="#1a1a1a" stroke-width="1.25"/>
<line x1="45.30" y1="685.50" x2="335.00" y2="685.50" stroke="#1a1a1a" stroke-width="1.25"/>
<line x1="45.50" y1="685.60" x2="45.50" y2="876.40" stroke="#1a1a1a" stroke-width="1.25"/>
<line x1="335.50" y1="685.60" x2="335.50" y2="876.40" stroke="#1a1a1a" stroke-width="1.25"/>
<text transform="translate(71.78,887.90) scale(1.2000,1)" font-size="9.00" letter-spacing="-0.040" fill="#000" font-weight="bold">Influent</text>
<text transform="translate(153.18,887.90) scale(1.2000,1)" font-size="9.00" letter-spacing="-0.101" fill="#000" font-weight="bold">MBR effluent</text>
<text transform="translate(251.86,887.90) scale(1.2000,1)" font-size="9.00" letter-spacing="-0.093" fill="#000" font-weight="bold">CAS effluent</text>
<text transform="translate(138.24,683.30) scale(1.3000,1)" font-size="10.50" letter-spacing="-0.713" fill="#000" font-weight="bold">CARBAMAZEPINE</text>
<text transform="translate(1.53,687.20) scale(1.1200,1)" font-size="16.80" letter-spacing="0.312" fill="#000" font-weight="bold">g)</text>
<text transform="rotate(-90)" x="-801.85" y="8.14" font-size="8.33" textLength="32.40" lengthAdjust="spacingAndGlyphs" fill="#000" font-weight="bold">c (ng/L)</text>
<line x1="394.50" y1="872.50" x2="397.50" y2="872.50" stroke="#1a1a1a" stroke-width="1.25"/>
<line x1="680.50" y1="872.50" x2="683.50" y2="872.50" stroke="#1a1a1a" stroke-width="1.25"/>
<text transform="translate(380.71,876.40) scale(1.2100,1)" font-size="8.80" letter-spacing="0.000" fill="#000" font-weight="bold">0</text>
<line x1="394.50" y1="845.50" x2="397.50" y2="845.50" stroke="#1a1a1a" stroke-width="1.25"/>
<line x1="680.50" y1="845.50" x2="683.50" y2="845.50" stroke="#1a1a1a" stroke-width="1.25"/>
<text transform="translate(376.10,849.17) scale(1.2000,1)" font-size="8.80" letter-spacing="0.074" fill="#000" font-weight="bold">10</text>
<line x1="394.50" y1="817.50" x2="397.50" y2="817.50" stroke="#1a1a1a" stroke-width="1.25"/>
<line x1="680.50" y1="817.50" x2="683.50" y2="817.50" stroke="#1a1a1a" stroke-width="1.25"/>
<text transform="translate(376.10,821.94) scale(1.2000,1)" font-size="8.80" letter-spacing="0.076" fill="#000" font-weight="bold">20</text>
<line x1="394.50" y1="790.50" x2="397.50" y2="790.50" stroke="#1a1a1a" stroke-width="1.25"/>
<line x1="680.50" y1="790.50" x2="683.50" y2="790.50" stroke="#1a1a1a" stroke-width="1.25"/>
<text transform="translate(376.09,794.71) scale(1.2000,1)" font-size="8.80" letter-spacing="0.077" fill="#000" font-weight="bold">30</text>
<line x1="394.50" y1="763.50" x2="397.50" y2="763.50" stroke="#1a1a1a" stroke-width="1.25"/>
<line x1="680.50" y1="763.50" x2="683.50" y2="763.50" stroke="#1a1a1a" stroke-width="1.25"/>
<text transform="translate(376.09,767.48) scale(1.2000,1)" font-size="8.80" letter-spacing="0.077" fill="#000" font-weight="bold">40</text>
<line x1="394.50" y1="736.50" x2="397.50" y2="736.50" stroke="#1a1a1a" stroke-width="1.25"/>
<line x1="680.50" y1="736.50" x2="683.50" y2="736.50" stroke="#1a1a1a" stroke-width="1.25"/>
<text transform="translate(376.10,740.25) scale(1.2000,1)" font-size="8.80" letter-spacing="0.076" fill="#000" font-weight="bold">50</text>
<line x1="394.50" y1="709.50" x2="397.50" y2="709.50" stroke="#1a1a1a" stroke-width="1.25"/>
<line x1="680.50" y1="709.50" x2="683.50" y2="709.50" stroke="#1a1a1a" stroke-width="1.25"/>
<text transform="translate(376.10,713.02) scale(1.2000,1)" font-size="8.80" letter-spacing="0.076" fill="#000" font-weight="bold">60</text>
<line x1="442.50" y1="876.00" x2="442.50" y2="873.00" stroke="#1a1a1a" stroke-width="1.25"/>
<line x1="442.50" y1="684.00" x2="442.50" y2="687.00" stroke="#1a1a1a" stroke-width="1.25"/>
<line x1="539.50" y1="876.00" x2="539.50" y2="873.00" stroke="#1a1a1a" stroke-width="1.25"/>
<line x1="539.50" y1="684.00" x2="539.50" y2="687.00" stroke="#1a1a1a" stroke-width="1.25"/>
<line x1="634.50" y1="876.00" x2="634.50" y2="873.00" stroke="#1a1a1a" stroke-width="1.25"/>
<line x1="634.50" y1="684.00" x2="634.50" y2="687.00" stroke="#1a1a1a" stroke-width="1.25"/>
<line x1="442.50" y1="692.40" x2="442.50" y2="730.60" stroke="#1a1a1a" stroke-width="1.2" stroke-dasharray="3.5,0.9"/>
<line x1="442.50" y1="774.40" x2="442.50" y2="800.00" stroke="#1a1a1a" stroke-width="1.2" stroke-dasharray="3.5,0.9"/>
<line x1="431.30" y1="692.50" x2="453.30" y2="692.50" stroke="#111" stroke-width="1.25"/>
<line x1="431.30" y1="800.50" x2="453.30" y2="800.50" stroke="#111" stroke-width="1.25"/>
<rect x="420.50" y="730.50" width="43.50" height="44.00" fill="none" stroke="#111" stroke-width="1.25"/>
<line x1="420.50" y1="767.50" x2="464.00" y2="767.50" stroke="#333" stroke-width="1.25"/>
<circle cx="442.50" cy="800.50" r="1.35" fill="#5a0000" stroke="#000" stroke-width="0.8"/>
<line x1="539.50" y1="851.00" x2="539.50" y2="855.60" stroke="#1a1a1a" stroke-width="1.2" stroke-dasharray="3.5,0.9"/>
<line x1="539.50" y1="865.60" x2="539.50" y2="867.60" stroke="#1a1a1a" stroke-width="1.2" stroke-dasharray="3.5,0.9"/>
<line x1="528.30" y1="851.50" x2="550.30" y2="851.50" stroke="#111" stroke-width="1.25"/>
<line x1="528.30" y1="867.50" x2="550.30" y2="867.50" stroke="#111" stroke-width="1.25"/>
<rect x="517.50" y="855.50" width="43.00" height="10.00" fill="none" stroke="#111" stroke-width="1.25"/>
<line x1="517.50" y1="863.50" x2="560.50" y2="863.50" stroke="#111" stroke-width="1.25"/>
<circle cx="539.50" cy="867.50" r="1.35" fill="#5a0000" stroke="#000" stroke-width="0.8"/>
<line x1="634.50" y1="853.00" x2="634.50" y2="857.40" stroke="#1a1a1a" stroke-width="1.2" stroke-dasharray="3.5,0.9"/>
<line x1="623.95" y1="853.50" x2="645.95" y2="853.50" stroke="#777" stroke-width="1.25"/>
<line x1="623.95" y1="866.50" x2="645.95" y2="866.50" stroke="#111" stroke-width="1.25"/>
<rect x="613.50" y="857.50" width="44.00" height="8.00" fill="none" stroke="#111" stroke-width="1.25"/>
<line x1="613.50" y1="861.50" x2="657.50" y2="861.50" stroke="#111" stroke-width="1.25"/>
<circle cx="634.50" cy="866.50" r="1.35" fill="#5a0000" stroke="#000" stroke-width="0.8"/>
<line x1="394.50" y1="876.50" x2="683.50" y2="876.50" stroke="#1a1a1a" stroke-width="1.25"/>
<line x1="394.50" y1="684.00" x2="683.50" y2="684.00" stroke="#444" stroke-width="1.6"/>
<line x1="394.50" y1="684.00" x2="394.50" y2="876.00" stroke="#1a1a1a" stroke-width="1.25"/>
<line x1="684.00" y1="683.50" x2="684.00" y2="876.50" stroke="#333" stroke-width="1.6"/>
<text transform="translate(420.95,887.90) scale(1.2000,1)" font-size="9.00" letter-spacing="-0.036" fill="#000" font-weight="bold">influent</text>
<text transform="translate(502.38,887.90) scale(1.2000,1)" font-size="9.00" letter-spacing="-0.101" fill="#000" font-weight="bold">MBR effluent</text>
<text transform="translate(601.06,887.90) scale(1.2000,1)" font-size="9.00" letter-spacing="-0.093" fill="#000" font-weight="bold">CAS effluent</text>
<text transform="translate(502.59,681.15) scale(1.3000,1)" font-size="10.50" letter-spacing="-0.683" fill="#000" font-weight="bold">PAROXETINE</text>
<text transform="translate(350.69,685.40) scale(1.1200,1)" font-size="16.80" letter-spacing="0.528" fill="#000" font-weight="bold">h)</text>
<text transform="rotate(-90)" x="-800.76" y="358.64" font-size="8.33" textLength="33.12" lengthAdjust="spacingAndGlyphs" fill="#000" font-weight="bold">c (ng/L)</text>
</svg>
</body></html>
